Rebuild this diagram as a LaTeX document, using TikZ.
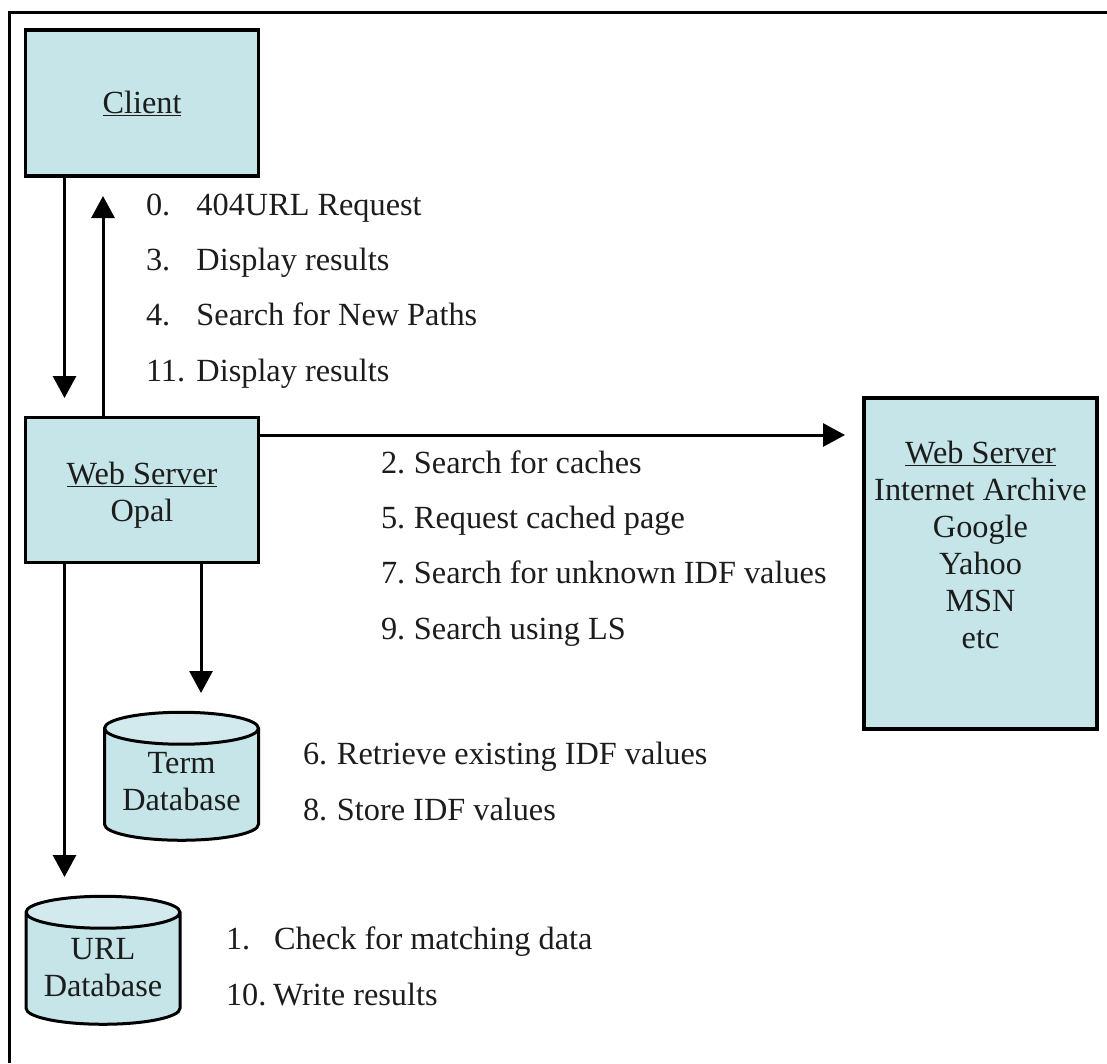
\documentclass[tikz,border=0pt]{standalone}
\usepackage{fontspec}
\setmainfont{Liberation Serif}
\usetikzlibrary{arrows.meta,shapes.geometric}
\definecolor{boxfill}{HTML}{C5E5E8}
\definecolor{topfill}{HTML}{D2EAED}
\definecolor{inkc}{HTML}{1C1C1C}
\tikzset{
  x=1pt,y=-1pt,
  every node/.style={font=\fontsize{32.3}{37}\selectfont,text=inkc,inner sep=0pt,outer sep=0pt},
  boxnode/.style={draw=black,line width=3.4pt,fill=boxfill,align=center,minimum width=233pt},
  dbnode/.style={draw=black,line width=3pt,cylinder,shape border rotate=90,aspect=0.27,
    cylinder uses custom fill,cylinder body fill=boxfill,cylinder end fill=topfill,
    minimum width=154pt,minimum height=128pt,align=center},
  conn/.style={draw=black,line width=3pt,-{Triangle[width=23pt,length=22pt]}},
  frameline/.style={draw=black,line width=3pt},
  steplabel/.style={anchor=base west},
}
\begin{document}
\begin{tikzpicture}
\useasboundingbox (0,0) rectangle (1107,1063);
\coordinate (fa) at (9,1063);
\coordinate (fb) at (9,12);
\coordinate (fc) at (1107,12);
\draw[frameline] (fa) -- (fb) -- (fc);

\node[boxnode,minimum height=146pt] (client) at (142,103) {\underline{Client}};
\node[boxnode,minimum height=145pt] (opal) at (142,490) {\rule{0pt}{32pt}\underline{Web Server}\\Opal};
\node[boxnode,minimum height=331pt] (ext) at (980.5,563.5) {\underline{Web Server}\\Internet Archive\\Google\\Yahoo\\MSN\\etc\\\mbox{}};
\node[dbnode] (term) at (181.5,785) {Term\\Database\rule[-8pt]{0pt}{8pt}};
\node[dbnode] (url) at (103,969) {URL\\Database\rule[-4pt]{0pt}{4pt}};

\coordinate (a1) at (64.5,398);
\coordinate (a2) at (103,196);
\coordinate (a3) at (845,435);
\coordinate (a4) at (64.5,877);
\coordinate (a5) at (201,693);
\draw[conn] (client.south -| a1) -- (a1);
\draw[conn] (opal.north -| a2) -- (a2);
\draw[conn] (opal.east |- a3) -- (a3);
\draw[conn] (opal.south -| a4) -- (a4);
\draw[conn] (opal.south -| a5) -- (a5);

\node[steplabel] (s0) at (146,215) {\makebox[50.5pt][l]{0.}404URL Request};
\node[steplabel] (s3) at (146,270) {\makebox[50.5pt][l]{3.}Display results};
\node[steplabel] (s4) at (146,325) {\makebox[50.5pt][l]{4.}Search for New Paths};
\node[steplabel] (s11) at (146,381) {\makebox[50.5pt][l]{11.}Display results};
\node[steplabel] (s2) at (381,473) {\makebox[33pt][l]{2.}Search for caches};
\node[steplabel] (s5) at (381,528) {\makebox[33pt][l]{5.}Request cached page};
\node[steplabel] (s7) at (381,583) {\makebox[33pt][l]{7.}Search for unknown IDF values};
\node[steplabel] (s9) at (381,639) {\makebox[33pt][l]{9.}Search using LS};
\node[steplabel] (s6) at (303,764) {\makebox[34pt][l]{6.}Retrieve existing IDF values};
\node[steplabel] (s8) at (303,820) {\makebox[34pt][l]{8.}Store IDF values};
\node[steplabel] (s1) at (226,949) {\makebox[48pt][l]{1.}Check for matching data};
\node[steplabel] (s10) at (226,1005) {\makebox[47pt][l]{10.}Write results};
\end{tikzpicture}
\end{document}
